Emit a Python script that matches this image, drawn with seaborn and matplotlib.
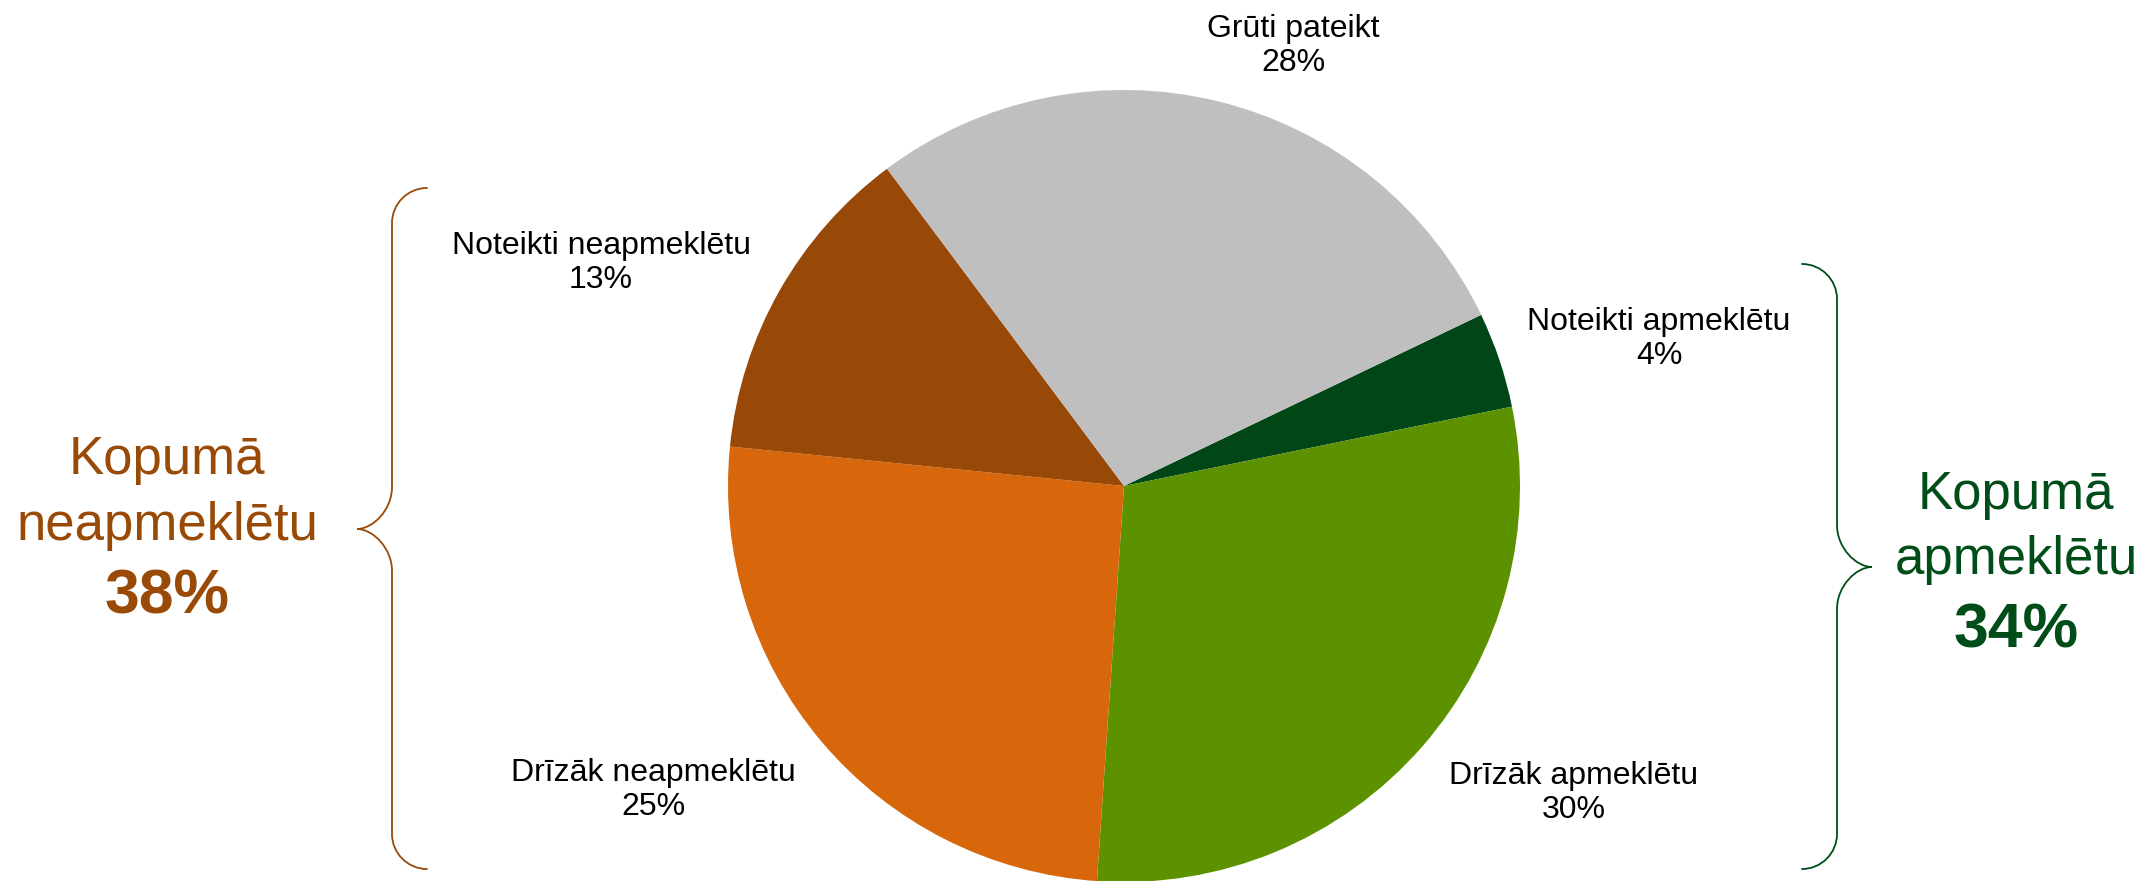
import matplotlib
matplotlib.use("Agg")
import matplotlib.pyplot as plt
import seaborn as sns
from matplotlib.path import Path
from matplotlib.patches import PathPatch

# Data (shares, labels show rounded values)
categories = ["Noteikti apmeklētu", "Drīzāk apmeklētu", "Drīzāk neapmeklētu",
              "Noteikti neapmeklētu", "Grūti pateikt"]
shares = [3.9, 29.3, 25.5, 13.2, 28.1]
shown = [4, 30, 25, 13, 28]
slice_colors = ["#004617", "#5C9200", "#D7670A", "#984807", "#BFBFBF"]
total_labels = ["Kopumā\napmeklētu", "Kopumā\nneapmeklētu"]
total_values = [shown[0] + shown[1], shown[2] + shown[3]]

sns.set_theme(style="white")
plt.rcParams['font.family'] = ['Liberation Sans', 'DejaVu Sans']

W, H = 2143, 881
fig = plt.figure(figsize=(W / 100, H / 100), dpi=100)
ax = fig.add_axes([0, 0, 1, 1])

# pie in pixel coordinates (y flipped from image)
cx, cy, r = 1124, H - 486, 396
ax.pie(shares, colors=slice_colors, startangle=25.6, counterclock=False,
       center=(cx, cy), radius=r, wedgeprops=dict(linewidth=0))

# slice labels (image coords)
label_pos = [(1659, 339), (1574, 793), (653, 790), (601, 263), (1293, 46)]
for name, val, (x, y) in zip(categories, shown, label_pos):
    ax.text(x, H - y, f"{name}\n{val}%", ha="center", va="center",
            fontsize=23, color="black", linespacing=1.2)


def brace(x_line, x_tip, x_end, y_top, y_tip, y_bot, color, k=35, k2=42):
    # curly brace, image coords -> data coords
    c = 0.55
    pts = [(x_end, y_top),
           (x_end + (x_line - x_end) * c, y_top), (x_line, y_top + k * (1 - c)), (x_line, y_top + k),
           (x_line, y_tip - k2),
           (x_line, y_tip - k2 * (1 - c)), (x_tip + (x_line - x_tip) * (1 - c), y_tip), (x_tip, y_tip),
           (x_tip + (x_line - x_tip) * (1 - c), y_tip), (x_line, y_tip + k2 * (1 - c)), (x_line, y_tip + k2),
           (x_line, y_bot - k),
           (x_line, y_bot - k * (1 - c)), (x_end + (x_line - x_end) * c, y_bot), (x_end, y_bot)]
    codes = [Path.MOVETO,
             Path.CURVE4, Path.CURVE4, Path.CURVE4,
             Path.LINETO,
             Path.CURVE4, Path.CURVE4, Path.CURVE4,
             Path.CURVE4, Path.CURVE4, Path.CURVE4,
             Path.LINETO,
             Path.CURVE4, Path.CURVE4, Path.CURVE4]
    pts = [(x, H - y) for x, y in pts]
    ax.add_patch(PathPatch(Path(pts, codes), fill=False, edgecolor=color, lw=1.3,
                           capstyle="round"))


brown = "#994A06"
dgreen = "#004D1A"
brace(392, 357, 427, 188, 529, 869, brown)
brace(1837, 1872, 1802, 264, 567, 869, dgreen)

# totals
for lab, val, x, ys, col in [(total_labels[1], total_values[1], 167, (460, 526, 597), brown),
                              (total_labels[0], total_values[0], 2016, (495, 560, 631), dgreen)]:
    first, second = lab.split("\n")
    ax.text(x, H - ys[0], first, ha="center", va="center", fontsize=38, color=col)
    ax.text(x, H - ys[1], second, ha="center", va="center", fontsize=38, color=col)
    ax.text(x, H - ys[2], f"{val}%", ha="center", va="center", fontsize=45,
            fontweight="bold", color=col)

ax.set_xlim(0, W)
ax.set_ylim(0, H)
ax.set_aspect("auto")
ax.axis("off")

fig.savefig("out.png", dpi=100, facecolor="white")
